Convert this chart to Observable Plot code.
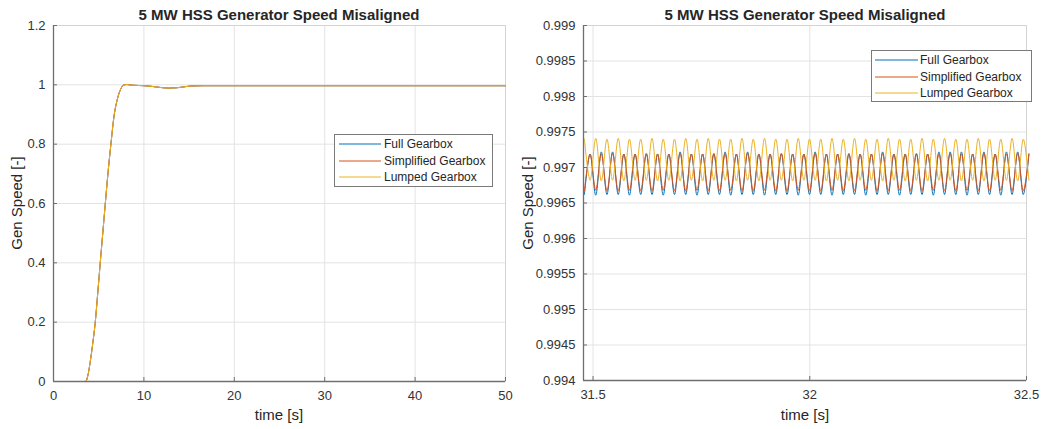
<!DOCTYPE html>
<html><head><meta charset="utf-8">
<script src="https://cdn.jsdelivr.net/npm/d3@7"></script>
<script src="https://cdn.jsdelivr.net/npm/@observablehq/plot@0.6"></script>
<style>
body{margin:0;background:#fff;font-family:"Liberation Sans",Arial,sans-serif;}
#wrap{position:relative;width:1052px;height:429px;overflow:hidden;background:#fff;}
.panel{position:absolute;top:0;}
.title{position:absolute;top:6px;font-weight:bold;font-size:15px;line-height:17px;color:#262626;transform:translateX(-50%);white-space:nowrap;}
.xlab{position:absolute;top:406px;font-size:15px;line-height:17px;color:#262626;transform:translateX(-50%);white-space:nowrap;}
.ylab{position:absolute;font-size:15px;line-height:17px;color:#262626;transform:translate(-50%,-50%) rotate(-90deg);white-space:nowrap;}
.legend{position:absolute;border:1px solid #7a7a7a;background:#fff;box-sizing:border-box;}
.lrow{position:absolute;left:0;height:16px;font-size:12px;line-height:16px;color:#262626;white-space:nowrap;}
.lrow span{position:absolute;top:0;}
</style>
</head><body>
<div id="wrap"></div>
<script>
// ---------- Data ----------
const seriesNames = ["Full Gearbox", "Simplified Gearbox", "Lumped Gearbox"];
const seriesColors = ["#0072BD", "#D95319", "#EDB120"];
const plotTitle = "5 MW HSS Generator Speed Misaligned";
const xLabel = "time [s]";
const yLabel = "Gen Speed [-]";

// Left panel: full run 0..50 s
const leftXTicks = [0, 10, 20, 30, 40, 50];
const leftYTicks = [0, 0.2, 0.4, 0.6, 0.8, 1, 1.2];
const leftTime = [0, 1, 2, 3, 3.55, 3.8, 4.08, 4.35, 4.62, 4.9, 5.17, 5.45, 5.73, 6.05, 6.35, 6.72, 7.05, 7.35, 7.75, 8.1, 8.6, 9.3, 10, 10.8, 11.6, 12.7, 13.6, 14.4, 15.2, 16.5, 20, 30, 40, 50];
const leftFull       = [0, 0, 0, 0, 0, 0.02, 0.07, 0.13, 0.2, 0.3, 0.4, 0.5, 0.6, 0.71, 0.8, 0.9, 0.95, 0.98, 0.999, 1.001, 0.999, 0.998, 0.997, 0.995, 0.992, 0.989, 0.990, 0.993, 0.996, 0.997, 0.997, 0.997, 0.997, 0.997];
const leftSimplified = [0, 0, 0, 0, 0, 0.02, 0.07, 0.13, 0.2, 0.3, 0.4, 0.5, 0.6, 0.71, 0.8, 0.9, 0.95, 0.98, 0.999, 1.001, 0.999, 0.998, 0.997, 0.995, 0.992, 0.989, 0.990, 0.993, 0.996, 0.997, 0.997, 0.997, 0.997, 0.997];
const leftLumped     = [0, 0, 0, 0, 0, 0.02, 0.07, 0.13, 0.2, 0.3, 0.4, 0.5, 0.6, 0.71, 0.8, 0.9, 0.95, 0.98, 0.999, 1.001, 0.999, 0.998, 0.997, 0.995, 0.992, 0.989, 0.990, 0.993, 0.996, 0.997, 0.997, 0.997, 0.997, 0.997];

// Right panel: zoom 31.48..32.5 s, oscillation extremes
const rightXDomain = [31.478, 32.5];
const rightXTicks = [31.5, 32, 32.5];
const rightYTicks = [0.994, 0.9945, 0.995, 0.9955, 0.996, 0.9965, 0.997, 0.9975, 0.998, 0.9985, 0.999];
const extremeTimes = [
 31.4802,31.4932,31.5062,31.5191,31.5321,31.5451,31.5581,31.5711,31.5840,31.5970,
 31.6100,31.6230,31.6360,31.6489,31.6619,31.6749,31.6879,31.7009,31.7138,31.7268,
 31.7398,31.7528,31.7658,31.7787,31.7917,31.8047,31.8177,31.8307,31.8436,31.8566,
 31.8696,31.8826,31.8956,31.9085,31.9215,31.9345,31.9475,31.9605,31.9734,31.9864,
 31.9994,32.0124,32.0254,32.0383,32.0513,32.0643,32.0773,32.0903,32.1032,32.1162,
 32.1292,32.1422,32.1552,32.1681,32.1811,32.1941,32.2071,32.2201,32.2330,32.2460,
 32.2590,32.2720,32.2850,32.2979,32.3109,32.3239,32.3369,32.3499,32.3628,32.3758,
 32.3888,32.4018,32.4148,32.4277,32.4407,32.4537,32.4667,32.4797,32.4926,32.5056];
// Lumped: peaks at even extreme times, troughs at odd
const lumpedPeaks = [
 0.99740,0.99741,0.99740,0.99741,0.99740,0.99740,0.99741,0.99740,0.99740,0.99741,
 0.99740,0.99741,0.99740,0.99740,0.99741,0.99740,0.99741,0.99740,0.99740,0.99741,
 0.99740,0.99740,0.99741,0.99740,0.99741,0.99740,0.99740,0.99741,0.99740,0.99740,
 0.99741,0.99740,0.99741,0.99740,0.99740,0.99741,0.99740,0.99740,0.99741,0.99740];
const lumpedTroughs = [
 0.99682,0.99681,0.99682,0.99681,0.99682,0.99682,0.99681,0.99682,0.99681,0.99682,
 0.99681,0.99682,0.99682,0.99681,0.99682,0.99681,0.99682,0.99682,0.99681,0.99682,
 0.99682,0.99681,0.99682,0.99681,0.99682,0.99682,0.99681,0.99682,0.99681,0.99682,
 0.99681,0.99682,0.99682,0.99681,0.99682,0.99681,0.99682,0.99682,0.99681,0.99682];
// Simplified: troughs at even extreme times, peaks at odd
const simplifiedTroughs = [
 0.99667,0.99668,0.99667,0.99667,0.99668,0.99667,0.99667,0.99668,0.99667,0.99667,
 0.99668,0.99667,0.99667,0.99668,0.99667,0.99667,0.99668,0.99667,0.99667,0.99668,
 0.99667,0.99667,0.99668,0.99667,0.99667,0.99668,0.99667,0.99667,0.99668,0.99667,
 0.99667,0.99668,0.99667,0.99667,0.99668,0.99667,0.99667,0.99668,0.99667,0.99667];
const simplifiedPeaks = [
 0.99719,0.99719,0.99720,0.99719,0.99719,0.99720,0.99719,0.99719,0.99720,0.99719,
 0.99719,0.99720,0.99719,0.99719,0.99720,0.99719,0.99719,0.99720,0.99719,0.99719,
 0.99720,0.99719,0.99719,0.99720,0.99719,0.99719,0.99720,0.99719,0.99719,0.99720,
 0.99719,0.99719,0.99720,0.99719,0.99719,0.99720,0.99719,0.99719,0.99720,0.99719];
// Full: troughs at even extreme times, peaks at odd
const fullTroughs = [
 0.99662,0.99661,0.99662,0.99662,0.99661,0.99662,0.99662,0.99661,0.99662,0.99662,
 0.99661,0.99662,0.99662,0.99661,0.99662,0.99662,0.99661,0.99662,0.99662,0.99661,
 0.99662,0.99662,0.99661,0.99662,0.99662,0.99661,0.99662,0.99662,0.99661,0.99662,
 0.99662,0.99661,0.99662,0.99662,0.99661,0.99662,0.99662,0.99661,0.99662,0.99662];
const fullPeaks = [
 0.99719,0.99722,0.99722,0.99719,0.99719,0.99719,0.99719,0.99719,0.99722,0.99719,
 0.99719,0.99719,0.99722,0.99719,0.99722,0.99719,0.99719,0.99719,0.99719,0.99719,
 0.99722,0.99719,0.99719,0.99719,0.99719,0.99719,0.99722,0.99719,0.99719,0.99719,
 0.99719,0.99722,0.99722,0.99722,0.99719,0.99722,0.99719,0.99722,0.99722,0.99719];

// ---------- Build tables ----------
const leftSeries = [leftFull, leftSimplified, leftLumped];
const leftData = leftSeries.flatMap((vals, s) => leftTime.map((t, i) => ({t, v: vals[i], s})));

function interleave(evenVals, oddVals) {
  return extremeTimes.map((t, i) => ({t, v: i % 2 === 0 ? evenVals[i >> 1] : oddVals[i >> 1]}));
}
const rightSeries = [
  interleave(fullTroughs, fullPeaks),
  interleave(simplifiedTroughs, simplifiedPeaks),
  interleave(lumpedPeaks, lumpedTroughs)
];

const fmt = d => String(+d.toFixed(4));
const gridColor = "#e3e3e3";
const axisColor = "#6f6f6f";
const textColor = "#333";

function panel({width, height, ml, mr, mt, mb, xDomain, yDomain, xTicks, yTicks, lines, curve}) {
  return Plot.plot({
    width, height,
    marginLeft: ml, marginRight: mr, marginTop: mt, marginBottom: mb,
    style: {fontFamily: '"Liberation Sans", Arial, sans-serif', fontSize: "13px", color: textColor, background: "transparent"},
    x: {domain: xDomain},
    y: {domain: yDomain},
    marks: [
      Plot.gridX({ticks: xTicks, stroke: gridColor, strokeOpacity: 1}),
      Plot.gridY({ticks: yTicks, stroke: gridColor, strokeOpacity: 1}),
      Plot.frame({stroke: "#d4d4d4"}),
      ...lines.map((d, s) => Plot.line(d, {x: "t", y: "v", stroke: seriesColors[s], strokeWidth: 1, curve})),
      Plot.ruleX([xDomain[0]], {stroke: axisColor, strokeWidth: 1.3}),
      Plot.ruleY([yDomain[0]], {stroke: axisColor, strokeWidth: 1.3}),
      Plot.axisX({ticks: xTicks, tickFormat: fmt, tickSize: -4, tickPadding: 13, stroke: axisColor, fill: textColor, fontSize: 13, label: null}),
      Plot.axisY({ticks: yTicks, tickFormat: fmt, tickSize: -4, tickPadding: 12, stroke: axisColor, fill: textColor, fontSize: 13, label: null})
    ]
  });
}

const wrap = document.getElementById("wrap");

const left = panel({
  width: 520, height: 429, ml: 53, mr: 15, mt: 25, mb: 48,
  xDomain: [0, 50], yDomain: [0, 1.2], xTicks: leftXTicks, yTicks: leftYTicks,
  lines: seriesNames.map((_, s) => leftData.filter(d => d.s === s)), curve: "monotone-x"
});
const right = panel({
  width: 532, height: 429, ml: 63, mr: 26, mt: 25, mb: 49,
  xDomain: rightXDomain, yDomain: [0.994, 0.999], xTicks: rightXTicks, yTicks: rightYTicks,
  lines: rightSeries, curve: "catmull-rom"
});

function place(el, x) { const d = document.createElement("div"); d.className = "panel"; d.style.left = x + "px"; d.appendChild(el); wrap.appendChild(d); }
place(left, 0);
place(right, 520);

function addText(cls, text, x, y) {
  const d = document.createElement("div"); d.className = cls; d.textContent = text;
  d.style.left = x + "px"; if (y != null) d.style.top = y + "px"; wrap.appendChild(d);
}
addText("title", plotTitle, 279);
addText("title", plotTitle, 805);
addText("xlab", xLabel, 279);
addText("xlab", xLabel, 805);
addText("ylab", yLabel, 16, 203);
addText("ylab", yLabel, 527, 203);

const rowTops = [1, 18, 34];
function legend(x, y, w, h, lineX0, lineLen, textX) {
  const box = document.createElement("div"); box.className = "legend";
  Object.assign(box.style, {left: x + "px", top: y + "px", width: w + "px", height: h + "px"});
  seriesNames.forEach((name, i) => {
    const row = document.createElement("div"); row.className = "lrow";
    row.style.top = rowTops[i] + "px"; row.style.width = (w - 2) + "px";
    const svgNS = "http://www.w3.org/2000/svg";
    const sv = document.createElementNS(svgNS, "svg");
    sv.setAttribute("width", lineX0 + lineLen + 1); sv.setAttribute("height", 16);
    sv.style.position = "absolute"; sv.style.left = "0px"; sv.style.top = "0px";
    const ln = document.createElementNS(svgNS, "line");
    ln.setAttribute("x1", lineX0); ln.setAttribute("x2", lineX0 + lineLen);
    ln.setAttribute("y1", 8); ln.setAttribute("y2", 8);
    ln.setAttribute("stroke", seriesColors[i]); ln.setAttribute("stroke-width", 1.2);
    sv.appendChild(ln);
    const sp = document.createElement("span"); sp.style.left = textX + "px"; sp.textContent = name;
    row.appendChild(sv); row.appendChild(sp);
    box.appendChild(row);
  });
  wrap.appendChild(box);
}
legend(334, 134, 159, 53, 4, 42, 49);
legend(871, 50, 161, 52, 3, 43, 48);
</script>
</body></html>
